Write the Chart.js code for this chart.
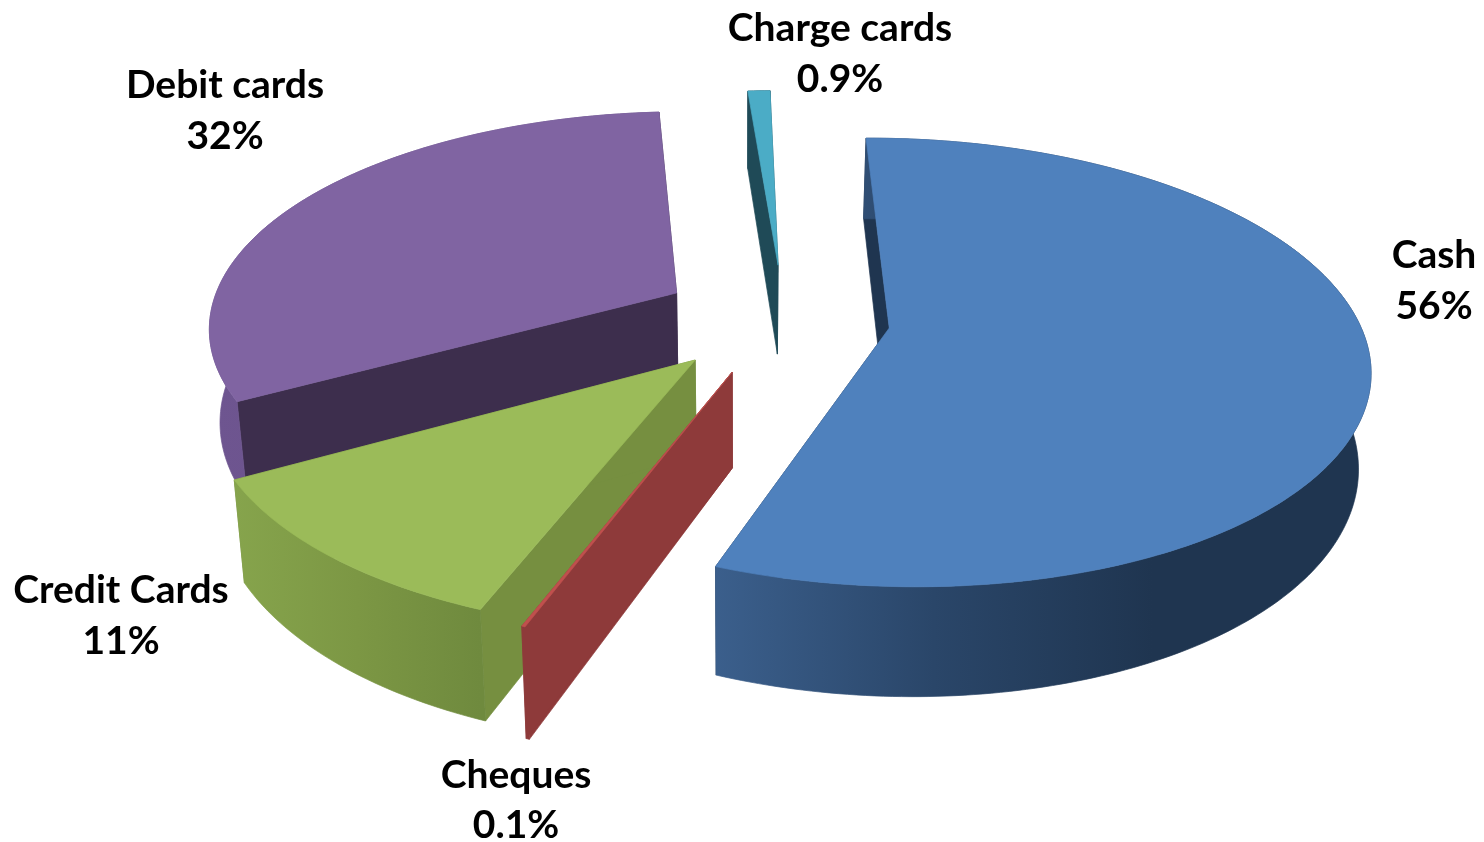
<!DOCTYPE html>
<html>
<head>
<meta charset="utf-8">
<title>Payment methods</title>
<script src="https://cdn.jsdelivr.net/npm/chart.js@4"></script>
<style>
  html, body { margin: 0; padding: 0; background: #ffffff; }
  canvas { display: block; }
</style>
</head>
<body>
<canvas id="paymentsChart" width="1484" height="842"></canvas>
<script>
const categories = ['Cash', 'Cheques', 'Credit Cards', 'Debit cards', 'Charge cards'];
const shares = [56, 0.1, 11, 32, 0.9];
const shareLabels = ['56%', '0.1%', '11%', '32%', '0.9%'];

const topColors = ['#4f81bd', '#c0504d', '#9bbb59', '#8064a2', '#4bacc6'];
const cutColors = ['#1f3550', '#8e3a3a', '#768f40', '#3d2e4d', '#1f4a57'];
const wallColors = [
    ['#3b5f8c', '#2a4669', '#1f3550', '#1f3550'],
    ['#8e3a3a', '#8e3a3a'],
    ['#86a44c', '#7c9744', '#6f8a3e'],
    ['#6e5590', '#664f86'],
    ['#1f4a57', '#1f4a57']
];

// how far each slice was pulled out, in radii on the tilted plane
const explode = [[0.312, 0], [-0.02, 0.195], [-0.097, 0.143], [-0.142, -0.164], [0.08, -0.30]];
// back to front
const drawOrder = [3, 4, 2, 1, 0];
// label centres and baselines
const labelBoxes = [[1434, 268, 319], [516, 788, 838], [121, 603, 654], [225, 98, 149], [840, 41, 92]];

// tilted view of the pie plane
const view = { x0: 742, y0: 328, sx: 472, sy: 219, persp: 0.1537, depth: 93, shrink: 0.98 };

function project(u, v, low) {
    const s = 1 / (1 - view.persp * v);
    let x = view.sx * u * s;
    if (low) x *= view.shrink;
    return {
        x: view.x0 + x,
        y: view.y0 + view.sy * v * s + (low ? view.depth * s : 0)
    };
}

function fillPoly(ctx, pts, fill) {
    ctx.beginPath();
    pts.forEach((p, i) => i ? ctx.lineTo(p.x, p.y) : ctx.moveTo(p.x, p.y));
    ctx.closePath();
    ctx.fillStyle = fill;
    ctx.fill();
    ctx.strokeStyle = fill;
    ctx.lineWidth = 0.7;
    ctx.stroke();
}

const pie3d = {
    id: 'pie3d',
    // the flat arcs only give the angles, the slices are painted tilted below
    beforeDatasetsDraw(chart) {
        const ctx = chart.ctx;
        const arcs = chart.getDatasetMeta(0).data;
        drawOrder.forEach(i => {
            const arc = arcs[i];
            const du = explode[i][0], dv = explode[i][1];
            const rim = [];
            const steps = Math.max(2, Math.ceil((arc.endAngle - arc.startAngle) * 60));
            for (let k = 0; k <= steps; k++) {
                const a = arc.startAngle + (arc.endAngle - arc.startAngle) * k / steps;
                rim.push([du + Math.cos(a), dv + Math.sin(a)]);
            }
            const topRim = rim.map(p => project(p[0], p[1], false));
            const lowRim = rim.map(p => project(p[0], p[1], true));
            const apexTop = project(du, dv, false);
            const apexLow = project(du, dv, true);

            // cut faces
            fillPoly(ctx, [apexTop, topRim[0], lowRim[0], apexLow], cutColors[i]);
            fillPoly(ctx, [apexTop, topRim[steps], lowRim[steps], apexLow], cutColors[i]);

            // outer wall, shaded left to right
            const xs = topRim.map(p => p.x);
            const grad = ctx.createLinearGradient(Math.min(...xs), 0, Math.max(...xs), 0);
            wallColors[i].forEach((c, k) => grad.addColorStop(k / (wallColors[i].length - 1), c));
            fillPoly(ctx, topRim.concat(lowRim.slice().reverse()), grad);

            // top face
            fillPoly(ctx, [apexTop].concat(topRim), arc.options.backgroundColor);
        });
        return false;
    },
    afterDraw(chart) {
        const ctx = chart.ctx;
        ctx.save();
        ctx.fillStyle = '#000000';
        ctx.font = 'bold 39px Lato';
        ctx.textAlign = 'center';
        ctx.textBaseline = 'alphabetic';
        categories.forEach((name, i) => {
            ctx.fillText(name, labelBoxes[i][0], labelBoxes[i][1]);
            ctx.fillText(shareLabels[i], labelBoxes[i][0], labelBoxes[i][2]);
        });
        ctx.restore();
    }
};

new Chart(document.getElementById('paymentsChart').getContext('2d'), {
    type: 'pie',
    data: {
        labels: categories,
        datasets: [{
            data: shares,
            backgroundColor: topColors,
            borderWidth: 0
        }]
    },
    options: {
        responsive: false,
        animation: false,
        rotation: -0.5,
        plugins: {
            legend: { display: false },
            tooltip: { enabled: false }
        }
    },
    plugins: [pie3d]
});
</script>
</body>
</html>
